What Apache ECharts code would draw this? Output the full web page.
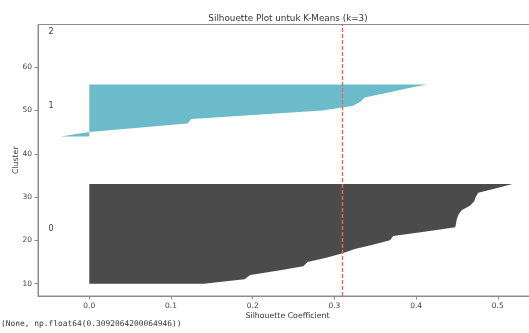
<!DOCTYPE html>
<html>
<head>
<meta charset="utf-8">
<script src="https://cdn.jsdelivr.net/npm/echarts@6/dist/echarts.min.js"></script>
<style>
  html, body { margin: 0; padding: 0; background: #fff; }
  #chart { width: 529px; height: 333px; }
</style>
</head>
<body>
<div id="chart"></div>
<script>
// silhouette values per cluster, sorted ascending
const clusterNames = ['0', '1', '2'];
const silhouette0 = [0.14, 0.19, 0.197, 0.23, 0.262, 0.267, 0.29, 0.31, 0.325, 0.347, 0.368, 0.372,
                     0.41, 0.448, 0.449, 0.45, 0.452, 0.456, 0.466, 0.471, 0.473, 0.476, 0.497, 0.518];
const silhouette1 = [-0.035, 0.0, 0.06, 0.12, 0.125, 0.205, 0.285, 0.322, 0.332, 0.337, 0.362, 0.387, 0.413];
const silhouette2 = [0.0];
const avgScore = 0.3092064200064946;
const xTicks = [0, 0.1, 0.2, 0.3, 0.4, 0.5];
const yTicks = [10, 20, 30, 40, 50, 60];
const outputText = '(None, np.float64(0.3092064200064946))';

const colors = ['#4b4b4b', '#6cbbca', '#8fd18a'];
const clusters = [silhouette0, silhouette1, silhouette2];

// stack clusters vertically with a gap of 10, like the matplotlib loop
let yLower = 10;
const clusterPoints = [];
const labelData = [];
clusters.forEach((vals, i) => {
    const pts = vals.map((v, j) => [v, yLower + j]);
    clusterPoints.push(pts);
    labelData.push([-0.05, yLower + 0.5 * vals.length, clusterNames[i]]);
    yLower = yLower + vals.length + 10;
});

const chart = echarts.init(document.getElementById('chart'));

const axisColor = '#8c8c8c';
const font = 'DejaVu Sans';

const series = clusterPoints.map((pts, i) => ({
    type: 'custom',
    clip: true,
    data: pts,
    encode: { x: 0, y: 1 },
    renderItem: function (params, api) {
        if (params.dataIndex !== 0 || pts.length < 2) return null;
        const poly = [];
        pts.forEach(p => poly.push(api.coord([p[0], p[1]])));
        for (let k = pts.length - 1; k >= 0; k--) {
            poly.push(api.coord([0, pts[k][1]]));
        }
        return {
            type: 'polygon',
            shape: { points: poly },
            style: { fill: colors[i], stroke: null }
        };
    },
    markLine: i === 0 ? {
        silent: true,
        symbol: 'none',
        label: { show: false },
        lineStyle: { color: '#e5675e', type: [4, 2], width: 1.4 },
        data: [{ xAxis: avgScore }]
    } : undefined
}));

series.push({
    type: 'custom',
    data: labelData,
    encode: { x: 0, y: 1 },
    renderItem: function (params, api) {
        const c = api.coord([api.value(0), api.value(1)]);
        return {
            type: 'text',
            x: c[0],
            y: c[1] + 1.5,
            style: {
                text: labelData[params.dataIndex][2],
                fontFamily: font,
                fontSize: 8,
                fill: '#333',
                align: 'left',
                verticalAlign: 'bottom'
            }
        };
    }
});

chart.setOption({
    animation: false,
    title: {
        text: 'Silhouette Plot untuk K-Means (k=3)',
        left: 283,
        textAlign: 'center',
        top: 9,
        textStyle: { fontFamily: font, fontSize: 8.8, fontWeight: 'normal', color: '#333' }
    },
    grid: {
        left: 38, top: 24.5, width: 499, height: 271.5,
        outerBoundsMode: 'none',
        containLabel: false,
        show: true, borderColor: axisColor, borderWidth: 1, backgroundColor: 'transparent'
    },
    xAxis: {
        type: 'value',
        min: -0.0628, max: 0.548,
        name: 'Silhouette Coefficient',
        nameLocation: 'middle',
        nameGap: 16,
        nameMoveOverlap: false,
        nameTextStyle: { fontFamily: font, fontSize: 7.8, color: '#333' },
        axisLine: { show: true, onZero: false, lineStyle: { color: axisColor, width: 1 } },
        axisTick: { show: true, length: 3.5, customValues: xTicks, lineStyle: { color: axisColor } },
        axisLabel: {
            customValues: xTicks,
            formatter: v => v.toFixed(1),
            fontFamily: font, fontSize: 7.5, color: '#444', margin: 6
        },
        splitLine: { show: false }
    },
    yAxis: {
        type: 'value',
        min: 7.15, max: 69.85,
        name: 'Cluster',
        nameLocation: 'middle',
        nameGap: 18,
        nameMoveOverlap: false,
        nameTextStyle: { fontFamily: font, fontSize: 7.8, color: '#333' },
        axisLine: { show: true, onZero: false, lineStyle: { color: axisColor, width: 1 } },
        axisTick: { show: true, length: 3.5, customValues: yTicks, lineStyle: { color: axisColor } },
        axisLabel: {
            customValues: yTicks,
            fontFamily: font, fontSize: 7.5, color: '#444', margin: 6
        },
        splitLine: { show: false }
    },
    graphic: [{
        type: 'text',
        left: 1,
        top: 320,
        style: { text: outputText, fontFamily: 'DejaVu Sans Mono', fontSize: 7.9, fill: '#333' }
    }],
    series: series
});
</script>
</body>
</html>
